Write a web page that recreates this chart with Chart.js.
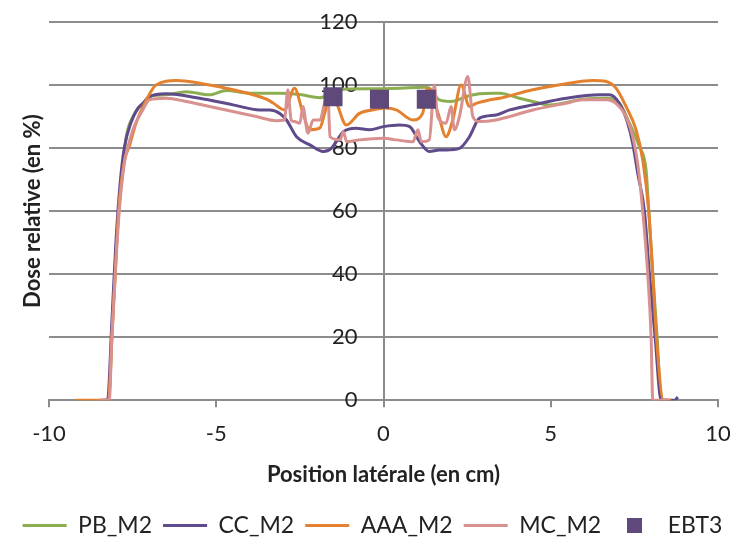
<!DOCTYPE html>
<html>
<head>
<meta charset="utf-8">
<script src="https://cdn.jsdelivr.net/npm/chart.js@4.4.1/dist/chart.umd.min.js"></script>
<style>
  html, body { margin: 0; padding: 0; background: #fff; }
  #wrap { width: 745px; height: 551px; }
</style>
</head>
<body>
<div id="wrap"><canvas id="chart"></canvas></div>
<script>
// lateral position (cm) and relative dose (%) per profile
const pbX = [-8.5, -8.22, -8.1, -7.95, -7.8, -7.69, -7.49, -7.19, -6.9, -6.5, -5.9, -5.2, -4.7, -4.0, -3.1, -2.5, -1.9, -1.2, -0.4, 0.5, 1.2, 1.37, 1.67, 2.02, 2.47, 2.87, 3.27, 3.47, 4.06, 4.46, 4.96, 5.96, 6.66, 7.05, 7.4, 7.65, 7.85, 7.93, 8.05, 8.18, 8.3, 8.5];
const pbY = [0, 0, 25, 55, 73, 83.6, 90, 94.2, 96.6, 96.9, 97.9, 96.9, 98.3, 97.4, 97.4, 97.0, 96.0, 98.7, 98.8, 99.0, 99.3, 99.0, 95.3, 94.8, 96.3, 97.2, 97.4, 97.4, 95.8, 94.8, 93.7, 95.5, 95.8, 94.2, 86.8, 80.4, 73, 60, 40, 20, 0, 0];

const ccX = [-8.4, -8.25, -8.12, -8.0, -7.88, -7.75, -7.55, -7.35, -7.19, -7.0, -6.5, -5.5, -4.5, -3.7, -3.4, -3.1, -2.9, -2.6, -2.2, -1.8, -1.56, -1.2, -0.82, -0.42, 0, 0.48, 0.78, 1.08, 1.37, 1.67, 1.87, 2.27, 2.57, 2.87, 3.37, 3.77, 4.46, 5.46, 6.46, 6.75, 7.05, 7.3, 7.45, 7.6, 7.8, 7.95, 8.12, 8.3, 8.7, 8.8];
const ccY = [0, 0, 25, 50, 68, 80, 88, 92.5, 94.2, 96.3, 97.2, 95.8, 93.7, 92.1, 92.1, 91.0, 88.9, 83.6, 81, 78.9, 79.9, 85.2, 86.3, 85.8, 86.8, 87.3, 86.8, 82, 78.9, 79.4, 79.4, 79.9, 83.6, 89.5, 90.5, 92.1, 93.7, 95.8, 96.9, 96.9, 94.2, 87.9, 81.5, 72, 60, 40, 20, 0, 0, 1];

const aaaX = [-9.2, -8.22, -8.12, -8.02, -7.92, -7.74, -7.6, -7.4, -7.14, -6.8, -6.2, -5.5, -4.5, -3.5, -3.3, -2.96, -2.66, -2.41, -2.21, -1.9, -1.76, -1.6, -1.41, -1.11, -0.72, -0.33, 0.08, 0.38, 0.88, 1.17, 1.32, 1.63, 1.87, 2.07, 2.32, 2.57, 2.77, 3.17, 3.47, 4.46, 5.46, 6.25, 6.66, 6.95, 7.25, 7.55, 7.75, 7.93, 8.05, 8.16, 8.37, 8.6];
const aaaY = [0, 0, 20, 40, 60, 76.2, 80.5, 87.9, 94.2, 100, 101.4, 100.6, 98.5, 95.5, 94.3, 92.1, 99, 91.1, 85.8, 86.4, 91, 96.5, 94.3, 87.3, 91, 92.1, 92.7, 92.1, 88.9, 91, 99, 91, 83.6, 88.9, 100, 93.2, 94.2, 95.3, 95.8, 98.5, 100.4, 101.4, 101.1, 99, 93.2, 85.8, 76.2, 60, 40, 20, 0, 0];

const mcX = [-8.5, -8.2, -8.12, -8.02, -7.9, -7.75, -7.65, -7.45, -7.2, -7.0, -6.5, -5.9, -5.2, -4.5, -3.8, -3.2, -2.96, -2.86, -2.76, -2.66, -2.5, -2.41, -2.26, -2.1, -1.9, -1.76, -1.66, -1.6, -1.3, -1.2, -1.1, -0.72, 0, 0.38, 0.88, 1.03, 1.13, 1.37, 1.52, 1.62, 1.87, 2.02, 2.12, 2.27, 2.52, 2.67, 2.87, 3.37, 3.77, 4.46, 5.46, 5.96, 6.66, 7.0, 7.25, 7.45, 7.6, 7.75, 7.9, 8.0, 8.05, 8.55];
const mcY = [0, 0, 20, 40, 60, 75, 80, 87, 92, 95.3, 95.8, 94.8, 93.2, 91.6, 90, 88.7, 88.9, 98.5, 88.9, 88.4, 87.9, 93.2, 84.7, 88.9, 88.9, 94.2, 96.3, 83.6, 82.6, 85.2, 82, 82.6, 83.1, 82.6, 82, 85.8, 82, 82.6, 100, 90, 87.9, 93.2, 85.8, 90, 102.7, 90, 88.4, 88.9, 90, 92.1, 94.2, 95.3, 95.3, 93.7, 90, 83.6, 75, 60, 40, 20, 0, 0];

const ebtX = [-1.51, -0.12, 1.28];
const ebtY = [96.3, 95.5, 95.5];

const xTicks = [-10, -5, 0, 5, 10];
const yTicks = [0, 20, 40, 60, 80, 100, 120];

function pts(xs, ys) {
    return xs.map((x, i) => ({x: x, y: ys[i]}));
}

const font = 'Lato';
const gridColor = '#8c8c8c';
const textColor = '#222';

// small square for the EBT3 legend entry
const legendSquare = document.createElement('canvas');
legendSquare.width = 15;
legendSquare.height = 15;
const sq = legendSquare.getContext('2d');
sq.fillStyle = '#5f497a';
sq.fillRect(0, 0, 15, 15);

const lineSet = (label, xs, ys, color, order) => ({
    label: label,
    data: pts(xs, ys),
    borderColor: color,
    backgroundColor: color,
    borderWidth: 3,
    pointRadius: 0,
    cubicInterpolationMode: 'monotone',
    order: order
});

const chart = document.querySelector('#chart').getContext('2d');

new Chart(chart, {
    type: 'line',
    data: {
        datasets: [
            lineSet('PB_M2', pbX, pbY, '#8cae50', 4),
            lineSet('CC_M2', ccX, ccY, '#5f4a8b', 3),
            lineSet('AAA_M2', aaaX, aaaY, '#e4812f', 2),
            lineSet('MC_M2', mcX, mcY, '#d9918f', 1),
            {
                label: 'EBT3',
                data: pts(ebtX, ebtY),
                showLine: false,
                pointStyle: 'rect',
                pointRadius: 13.5,
                pointHoverRadius: 13.5,
                borderWidth: 0,
                backgroundColor: '#5f497a',
                borderColor: '#5f497a',
                order: 0
            }
        ]
    },
    options: {
        responsive: true,
        maintainAspectRatio: false,
        animation: false,
        layout: {
            padding: {left: 0, right: 0, top: 22, bottom: 4}
        },
        plugins: {
            tooltip: {enabled: false},
            legend: {
                position: 'bottom',
                labels: {
                    font: {family: font, size: 23},
                    color: textColor,
                    usePointStyle: true,
                    pointStyleWidth: 44,
                    boxHeight: 15,
                    padding: 11,
                    sort: (a, b) => a.datasetIndex - b.datasetIndex,
                    generateLabels: (c) => {
                        const items = Chart.defaults.plugins.legend.labels.generateLabels(c);
                        items.forEach(it => {
                            it.pointStyle = it.text === 'EBT3' ? legendSquare : 'line';
                        });
                        return items;
                    }
                }
            }
        },
        scales: {
            x: {
                type: 'linear',
                position: 'bottom',
                min: -10,
                max: 10,
                afterBuildTicks: (s) => { s.ticks = xTicks.map(v => ({value: v})); },
                ticks: {
                    font: {family: font, size: 22},
                    color: textColor,
                    padding: 14
                },
                grid: {
                    drawOnChartArea: true,
                    drawTicks: true,
                    tickLength: 7,
                    color: (ctx) => (ctx.tick && ctx.tick.value === 0 ? gridColor : 'rgba(0,0,0,0)'),
                    tickColor: gridColor,
                    lineWidth: 2
                },
                border: {color: gridColor, width: 2},
                title: {
                    display: true,
                    text: 'Position latérale (en cm)',
                    font: {family: font, size: 22, weight: 'bold'},
                    color: textColor,
                    padding: {top: 0, bottom: 15}
                }
            },
            y: {
                type: 'linear',
                // labels sit a little left of the x = 0 line
                position: {x: -0.78},
                min: 0,
                max: 120,
                afterBuildTicks: (s) => { s.ticks = yTicks.map(v => ({value: v})); },
                ticks: {
                    font: {family: font, size: 22},
                    color: textColor
                },
                grid: {
                    color: gridColor,
                    lineWidth: 2,
                    drawTicks: false
                },
                border: {display: false}
            },
            yTitle: {
                type: 'linear',
                position: 'left',
                min: 0,
                max: 120,
                afterFit: (s) => { s.width = 49; },
                ticks: {display: false},
                grid: {display: false, drawTicks: false},
                border: {display: false},
                title: {
                    display: true,
                    text: 'Dose relative (en %)',
                    font: {family: font, size: 22, weight: 'bold'},
                    color: textColor,
                    padding: {top: 20, bottom: 4}
                }
            },
            yRight: {
                type: 'linear',
                position: 'right',
                min: 0,
                max: 120,
                afterFit: (s) => { s.width = 27; },
                ticks: {display: false},
                grid: {display: false, drawTicks: false},
                border: {display: false}
            }
        }
    }
});
</script>
</body>
</html>
